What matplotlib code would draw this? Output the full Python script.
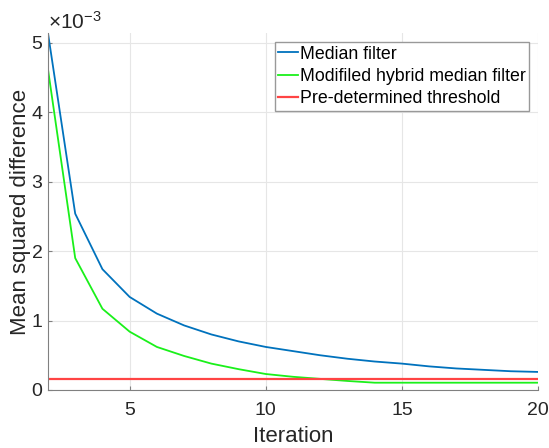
import numpy as np
import matplotlib.pyplot as plt
from matplotlib.ticker import ScalarFormatter

plt.rcParams['font.family'] = ['Liberation Sans', 'DejaVu Sans']
plt.rcParams['mathtext.fontset'] = 'custom'
plt.rcParams['mathtext.rm'] = 'Liberation Sans'
plt.rcParams['mathtext.it'] = 'Liberation Sans'

# donnees
iteration = [2, 3, 4, 5, 6, 7, 8, 9, 10, 11, 12, 13, 14, 15, 16, 17, 18, 19, 20]
median = [5.14e-3, 2.54e-3, 1.74e-3, 1.34e-3, 1.10e-3, 0.93e-3, 0.80e-3, 0.70e-3,
          0.62e-3, 0.56e-3, 0.50e-3, 0.45e-3, 0.41e-3, 0.38e-3, 0.34e-3, 0.31e-3,
          0.29e-3, 0.27e-3, 0.26e-3]
hybride = [4.62e-3, 1.90e-3, 1.17e-3, 0.84e-3, 0.62e-3, 0.49e-3, 0.38e-3, 0.30e-3,
           0.23e-3, 0.19e-3, 0.16e-3, 0.13e-3, 0.105e-3, 0.105e-3, 0.105e-3,
           0.105e-3, 0.105e-3, 0.105e-3, 0.105e-3]
seuil = 0.158e-3
noms = ['Median filter', 'Modifiled hybrid median filter', 'Pre-determined threshold']

fig = plt.figure(figsize=(5.49, 4.48), dpi=100)
ax = fig.add_axes([0.0874, 0.1295, 0.8926, 0.7965])

x = np.array(iteration)
ax.plot(x, median, color='#0072BD', linewidth=1.3, label=noms[0])
ax.plot(x, hybride, color='#1AF01A', linewidth=1.3, label=noms[1])
ax.plot(x, [seuil] * len(x), color='#FF4444', linewidth=1.6, label=noms[2])

ax.set_xlim(2, 20)
ax.set_ylim(0, 5.14e-3)
ax.set_xticks([5, 10, 15, 20])
ax.set_yticks([0, 1e-3, 2e-3, 3e-3, 4e-3, 5e-3])

# affichage x10^-3 en haut a gauche
fmt = ScalarFormatter(useMathText=True)
fmt.set_powerlimits((-2, 2))
ax.yaxis.set_major_formatter(fmt)
ax.yaxis.get_offset_text().set_fontsize(15)
ax.yaxis.get_offset_text().set_color('#262626')

ax.grid(True, color='#E6E6E6', linewidth=0.8)
ax.spines['top'].set_visible(False)
ax.spines['right'].set_visible(False)
ax.spines['left'].set_color('#808080')
ax.spines['bottom'].set_color('#808080')
ax.tick_params(direction='in', length=3, colors='#808080', labelcolor='#262626',
               labelsize=14)
ax.tick_params(axis='x', pad=9)

ax.set_xlabel('Iteration', fontsize=16, color='#262626', labelpad=5)
ax.set_ylabel('Mean squared difference', fontsize=16, color='#262626', labelpad=0)

leg = ax.legend(loc='upper right', fontsize=12.8, handlelength=1.1, handletextpad=0.1,
                borderpad=0.2, labelspacing=0.3, borderaxespad=0.5, fancybox=False,
                framealpha=1)
leg.get_frame().set_edgecolor('#999999')
leg.get_frame().set_linewidth(1.0)

plt.savefig('out.png', dpi=100)
